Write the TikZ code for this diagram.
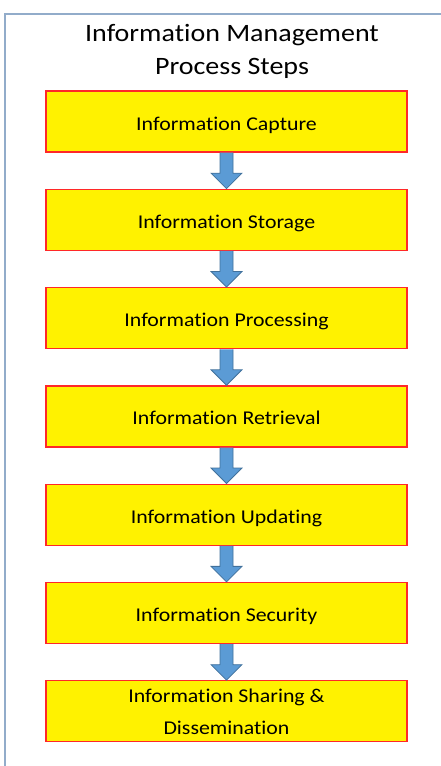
\documentclass[tikz,border=0pt]{standalone}
\usepackage{fontspec}
\setmainfont{Carlito}[FakeStretch=1.12,Ligatures=NoCommon]
\usetikzlibrary{positioning,calc}
\definecolor{framecol}{RGB}{146,172,202}
\definecolor{boxred}{RGB}{255,40,40}
\definecolor{arrowfill}{RGB}{91,155,213}
\definecolor{arrowline}{RGB}{65,113,156}
\tikzset{stepbox/.style={draw=boxred,fill=yellow,line width=1.3pt,minimum width=361pt,minimum height=61pt,inner sep=2pt,align=center,font=\fontsize{19.5}{32}\selectfont},
stepline/.style={stepbox,text height=20pt,text depth=3pt},
fatarrow/.style={fill=arrowfill,draw=arrowline,line width=0.8pt,line join=miter}}
\begin{document}
\begin{tikzpicture}[x=1pt,y=-1pt,node distance=36pt]
\useasboundingbox (0,0) rectangle (441,766);
\draw[framecol,line width=2pt] (441,14)--(5,14)--(5,766);
\node[font=\fontsize{25}{33}\selectfont,align=center,inner sep=0pt] (title) at (232,51) {Information Management\\Process Steps};
\node[stepline] (capture) at (226.5,121.5) {Information Capture};
\node[stepline,below=of capture] (storage) {Information Storage};
\node[stepline,below=of storage] (processing) {Information Processing};
\node[stepline,below=of processing] (retrieval) {Information Retrieval};
\node[stepline,below=of retrieval] (updating) {Information Updating};
\node[stepline,below=of updating] (security) {Information Security};
\node[stepbox,below=of security] (sharing) {Information Sharing \&\\Dissemination};
\foreach \a/\b in {capture/storage,storage/processing,processing/retrieval,retrieval/updating,updating/security,security/sharing}
  \draw[fatarrow] ($(\a.south)+(-6.5,0)$)--($(\b.north)+(-6.5,-15.5)$)--++(-9,0)--(\b.north)--++(15.5,-15.5)--++(-9,0)--($(\a.south)+(6.5,0)$);
\end{tikzpicture}
\end{document}
